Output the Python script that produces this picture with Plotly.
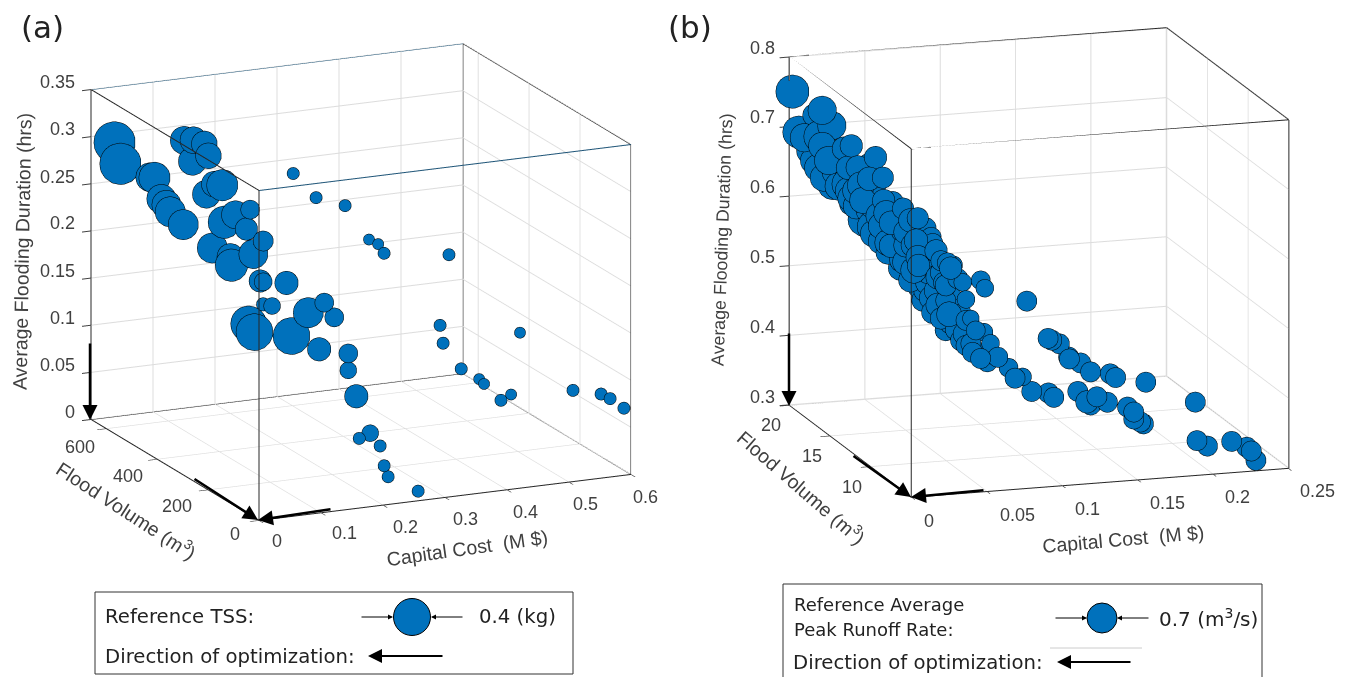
#!/usr/bin/env python3
# -*- coding: utf-8 -*-
"""Two 3D Pareto scatter panels: capital cost, flood volume, flooding duration."""
import plotly.graph_objects as go

WIDTH, HEIGHT = 1348, 677
BLUE = "#0071bc"
TEXT = "#404040"
FONT = "DejaVu Sans"
AXIS_FONT = "Liberation Sans"

# panel (a): values
cost_a = [.024, .024, .036, .036, .048, .048, .048, .048, .048, .048, .06, .06, .036, .036, .036, .048,
          .072, .06, .072, .06, .06, .072, .072, .06, .06, .084, .084, .096, .084, .084, .072, .072,
          .096, .12, .132, .144, .12, .156, .156, .168,
          .30, .30, .30, .33, .33, .33, .42, .36, .36, .39, .408, .408, .45, .432, .48, .54, .582, .588, .60,
          .186, .168, .198, .216, .222, .27]
volume_a = [628, 605, 516, 500, 412, 376, 333, 317, 380, 325, 323, 292, 473, 453, 438, 416,
            211, 240, 226, 284, 331, 160, 199, 260, 256, 189, 201, 127, 189, 154, 218, 195,
            108, 100, 66, 56, 57, 30, 30, 28,
            597, 507, 393, 372, 336, 313, 277, 166, 154, 156, 129, 110, 106, 102, 144, 82, 74, 53, 28,
            17, 16, 7, 35, 34, 33]
duration_a = [.298, .279, .278, .280, .333, .339, .342, .332, .316, .290, .300, .304, .262, .259, .254, .243,
              .290, .281, .267, .266, .231, .265, .245, .233, .225, .216, .215, .224, .192, .196, .168, .163,
              .171, .195, .210, .195, .163, .160, .142, .114,
              .247, .236, .246, .211, .212, .206, .203, .151, .134, .104, .096, .094, .080, .076, .137, .081, .075, .073, .066,
              .075, .071, .062, .035, .023, .004]
tss_a = [.4, .4, .198, .229, .183, .168, .155, .155, .183, .183, .155, .229, .198, .198, .213, .213,
         .084, .183, .117, .246, .213, .095, .198, .168, .246, .075, .117, .129, .042, .066, .299, .318,
         .318, .213, .084, .084, .129, .084, .066, .129,
         .035, .035, .035, .029, .029, .035, .035, .035, .035, .035, .029, .029, .029, .035, .029, .035, .035, .035, .035,
         .066, .035, .035, .035, .035, .035]

# panel (b): values
cost_b = [.001, .0025, .0025,
          .01, .01, .01, .01, .01, .01, .01, .01, .01,
          .0175, .0175, .0175, .0175, .0175, .0175, .0175, .0175, .0175, .0175, .0175, .0175, .0175,
          .025, .025, .025, .025, .025, .025, .025, .025, .025, .025, .025, .025,
          .0325, .0325, .0325, .0325, .0325, .0325, .0325, .0325, .0325, .0325, .0325, .0325, .0325,
          .0425, .0425, .0425, .0425, .0425, .0425, .0425, .0425, .0425, .0425, .0425, .0425, .0425, .0425, .0425, .0425, .0425, .0425,
          .05, .05, .05, .05, .05, .05, .05, .05, .05, .05, .05, .05, .05, .05,
          .0625, .0625, .0625, .0625, .0625, .0625, .0625,
          .075, .075, .08, .085, .095, .0975, .115, .12, .1225, .125, .1325, .1475, .15, .15, .155, .1575,
          .1925, .2, .215, .225, .2275, .23,
          .0925, .105, .1075, .1125, .1175, .1175, .125, .13, .1425, .145, .165, .2,
          .0175, .0175, .0175, .0175, .0175,
          .025, .025, .025, .025, .025, .025,
          .0325, .0325, .0325, .0325, .0325, .0325,
          .0425, .0425, .0425, .0425, .0425, .0425, .0425, .0425,
          .05, .05, .05, .05, .05]
volume_b = [19.9, 19.4, 18.7,
            18.9, 17.9, 18.2, 17.9, 18.9, 18.4, 17.7, 19.3, 17.1,
            18.1, 15.7, 16.6, 14.9, 17.5, 16.1, 18.0, 16.2, 16.0, 15.7, 15.7, 17.2, 15.1,
            14.1, 15.0, 14.4, 13.2, 13.1, 15.4, 14.4, 14.3, 13.4, 12.6, 12.6, 13.4,
            13.4, 12.1, 13.2, 12.1, 11.2, 10.3, 12.1, 10.3, 13.0, 12.7, 11.8, 10.8, 10.9,
            11.8, 10.5, 10.3, 9.3, 10.9, 10.9, 11.8, 9.7, 8.9, 10.5, 9.7, 8.3, 11.2, 11.2, 10.5, 9.3, 8.7, 8.5,
            9.2, 8.6, 8.0, 7.6, 8.2, 7.0, 9.5, 7.8, 8.9, 8.9, 7.6, 7.0, 6.4, 9.5,
            8.1, 7.6, 7.7, 6.9, 8.5, 7.3, 6.0,
            7.0, 6.2, 6.2, 6.0, 5.8, 5.6, 5.9, 5.7, 5.7, 5.4, 5.5, 5.8, 5.5, 5.5, 5.6, 5.7,
            5.6, 5.7, 5.5, 5.5, 5.4, 5.3,
            8.0, 7.7, 7.7, 7.7, 7.5, 7.4, 7.4, 7.1, 7.0, 6.8, 6.8, 7.2,
            17.0, 14.5, 15.1, 14.3, 13.5,
            14.4, 12.8, 13.7, 12.2, 14.9, 12.2,
            11.8, 10.5, 11.8, 10.2, 11.2, 12.4,
            11.2, 9.9, 11.5, 9.9, 8.7, 10.3, 9.3, 8.1,
            10.1, 8.2, 6.8, 5.8, 7.6]
duration_b = [.752, .698, .696,
              .725, .741, .701, .690, .660, .654, .646, .671, .676,
              .716, .708, .696, .684, .656, .673, .632, .649, .641, .633, .625, .637, .627,
              .704, .687, .661, .683, .651, .604, .602, .593, .590, .595, .581, .612,
              .645, .647, .601, .615, .638, .649, .574, .593, .619, .581, .573, .570, .605,
              .610, .618, .611, .595, .566, .550, .535, .568, .567, .531, .528, .527, .536, .625, .592, .578, .543, .599,
              .588, .574, .574, .553, .527, .531, .502, .502, .526, .498, .487, .495, .519, .543,
              .574, .567, .503, .494, .466, .464, .482,
              .456, .448, .449, .429, .427, .422, .425, .411, .406, .420, .410, .398, .393, .383, .377, .373,
              .344, .334, .340, .330, .325, .312,
              .540, .487, .484, .478, .460, .458, .451, .440, .436, .432, .422, .384,
              .676, .662, .649, .642, .680,
              .632, .636, .624, .627, .621, .594,
              .616, .615, .597, .582, .552, .559,
              .594, .604, .519, .547, .565, .512, .512, .595,
              .487, .489, .484, .484, .523]
runoff_b = [.61, .567, .448,
            .281, .448, .567, .411, .411, .411, .411, .448, .448,
            .448, .281, .311, .311, .486, .311, .486, .526, .411, .411, .311, .448, .376,
            .281, .225, .343, .252, .281, .654, .567, .411, .376, .376, .311, .376,
            .252, .252, .311, .311, .311, .252, .411, .311, .252, .376, .376, .376, .311,
            .252, .225, .225, .225, .343, .343, .343, .311, .252, .311, .311, .343, .311, .252, .252, .252, .225, .225,
            .199, .225, .175, .175, .225, .152, .252, .281, .252, .225, .225, .225, .199, .225,
            .199, .175, .175, .175, .225, .225, .225,
            .199, .225, .175, .225, .225, .225, .225, .281, .225, .225, .225, .225, .225, .225, .225, .225,
            .225, .225, .225, .225, .225, .225,
            .225, .225, .225, .225, .225, .225, .225, .225, .225, .225, .225, .225,
            .448, .411, .411, .376, .311,
            .376, .343, .376, .311, .376, .311,
            .311, .311, .311, .281, .311, .343,
            .311, .281, .281, .311, .252, .281, .252, .281,
            .252, .252, .225, .225, .225]

TICKS_COST_A = [0, .1, .2, .3, .4, .5, .6]
TICKS_VOLUME_A = [0, 200, 400, 600]
TICKS_DURATION_A = [0, .05, .1, .15, .2, .25, .3, .35]
TICKS_COST_B = [0, .05, .1, .15, .2, .25]
TICKS_VOLUME_B = [10, 15, 20]
TICKS_DURATION_B = [.3, .4, .5, .6, .7, .8]

LABELS_COST_A = ["0", "0.1", "0.2", "0.3", "0.4", "0.5", "0.6"]
LABELS_VOLUME_A = ["0", "200", "400", "600"]
LABELS_DURATION_A = ["0", "0.05", "0.1", "0.15", "0.2", "0.25", "0.3", "0.35"]
LABELS_COST_B = ["0", "0.05", "0.1", "0.15", "0.2", "0.25"]
LABELS_VOLUME_B = ["10", "15", "20"]
LABELS_DURATION_B = ["0.3", "0.4", "0.5", "0.6", "0.7", "0.8"]

# where the tick labels sit on the page (gl labels cannot be pushed off the axis far enough)
POS_COST_A = [(277, 541), (344, 533), (405, 527), (465, 519), (525, 512), (585, 504), (645, 497)]
POS_VOLUME_A = [(235, 534), (177, 506), (128, 476), (80, 447)]
POS_DURATION_A = [412, 365, 318, 271, 223, 177, 129, 82]
POS_COST_B = [(929, 521), (1017, 515), (1087, 509), (1167, 503), (1237, 497), (1317, 491)]
POS_VOLUME_B = [(852, 487), (812, 456), (771, 425)]
POS_DURATION_B = [397, 327, 257, 187, 117, 48]

MARKER_SCALE_A = 1.3  # gl markers come out smaller than the svg circle in the legend
MARKER_SCALE_B = 1.38


def fx(x):
    return x / WIDTH


def fy(y):
    return 1 - y / HEIGHT


def text(x, y, s, size=19.7, angle=0, anchor="left", color="#222222", family=FONT):
    return dict(xref="paper", yref="paper", x=fx(x), y=fy(y), text=s, showarrow=False,
                xanchor=anchor, yanchor="middle", textangle=angle,
                font=dict(family=family, size=size, color=color))


def tick_labels(labels, positions, anchor="center", right=None):
    out = []
    for lab, pos in zip(labels, positions):
        x, y = (right, pos) if right is not None else pos
        out.append(text(x, y, lab, size=18, anchor=anchor, color=TEXT, family=AXIS_FONT))
    return out


def arrow(x0, y0, x1, y1, width=1.6, size=1.0):
    return dict(xref="paper", yref="paper", axref="pixel", ayref="pixel",
                x=fx(x1), y=fy(y1), ax=x0 - x1, ay=y0 - y1, text="", showarrow=True,
                arrowhead=2, arrowsize=size, arrowwidth=width, arrowcolor="black", standoff=0)


def box_traces(scene, xr, yr, zr, top_color):
    # edges of the plot box, from the axis ranges
    x0, x1 = xr
    y0, y1 = yr
    z0, z1 = zr
    dark = go.Scatter3d(
        x=[x0, x1, x1, None, x0, x0, None, x0, x0, None, x0, x0, None, x1, x1, None, x1, x1, None, x0, x1, None, x0, x0, None, x1, x1],
        y=[y0, y0, y1, None, y0, y1, None, y0, y0, None, y1, y1, None, y0, y0, None, y1, y1, None, y1, y1, None, y0, y1, None, y0, y1],
        z=[z0, z0, z0, None, z0, z0, None, z0, z1, None, z0, z1, None, z0, z1, None, z0, z1, None, z0, z0, None, z1, z1, None, z1, z1],
        mode="lines", line=dict(color="#262626", width=2), scene=scene,
        showlegend=False, hoverinfo="skip")
    top = go.Scatter3d(
        x=[x0, x1, None, x0, x1],
        y=[y1, y1, None, y0, y0],
        z=[z1, z1, None, z1, z1],
        mode="lines", line=dict(color=top_color, width=2), scene=scene,
        showlegend=False, hoverinfo="skip")
    return [dark, top]


def axis(rng, ticks, labels):
    return dict(range=rng, autorange=False, tickvals=ticks, ticktext=labels, title=dict(text=""),
                showbackground=False, showgrid=True, gridcolor="#dcdcdc", gridwidth=2,
                zeroline=False, showspikes=False, showline=True, linecolor="#262626", linewidth=2,
                ticks="outside", ticklen=10, tickwidth=2, tickcolor="#404040",
                showticklabels=False)


fig = go.Figure()

# marker diameter grows with the square root of the mapped value, reference circle in the legend
fig.add_trace(go.Scatter3d(
    x=cost_a, y=volume_a, z=duration_a, mode="markers", scene="scene", showlegend=False,
    marker=dict(size=[MARKER_SCALE_A * 37 * (t / .4) ** .5 for t in tss_a], color=BLUE, opacity=1,
                line=dict(color="black", width=1.5))))
fig.add_trace(go.Scatter3d(
    x=cost_b, y=volume_b, z=duration_b, mode="markers", scene="scene2", showlegend=False,
    marker=dict(size=[MARKER_SCALE_B * 30 * (r / .7) ** .5 for r in runoff_b], color=BLUE, opacity=1,
                line=dict(color="black", width=1.5))))

RANGE_B = ((-.0003, .2503), (4.98, 20.02), (.2995, .8005))
for tr in box_traces("scene", (0, .6), (0, 660), (0, .35), "#1f5578"):
    fig.add_trace(tr)
for tr in box_traces("scene2", *RANGE_B, "#262626"):
    fig.add_trace(tr)

annotations = [
    text(19, 27, "(a)", size=31), text(666, 27, "(b)", size=31),
    text(22, 252, "Average Flooding Duration (hrs)", size=19.5, angle=-89, anchor="center", color=TEXT, family=AXIS_FONT),
    text(127, 510, "Flood Volume (m<sup>3</sup>)", size=19.5, angle=33, anchor="center", color=TEXT, family=AXIS_FONT),
    text(467, 548, "Capital Cost  (M $)", size=19.5, angle=-8, anchor="center", color=TEXT, family=AXIS_FONT),
    text(722, 240, "Average Flooding Duration (hrs)", size=17.8, angle=-88, anchor="center", color=TEXT, family=AXIS_FONT),
    text(802, 487, "Flood Volume (m<sup>3</sup>)", size=19.5, angle=41, anchor="center", color=TEXT, family=AXIS_FONT),
    text(1123, 539, "Capital Cost  (M $)", size=19.5, angle=-5, anchor="center", color=TEXT, family=AXIS_FONT),
    # direction arrows on the axes
    arrow(90, 342, 90, 420, width=2.5, size=1.2), arrow(193, 478, 258, 520, width=2.5, size=1.2),
    arrow(332, 509, 258, 520, width=2.5, size=1.2),
    arrow(789, 332, 789, 406, width=2.5, size=1.2), arrow(852, 455, 911, 497, width=2.5, size=1.2),
    arrow(985, 490, 911, 497, width=2.5, size=1.2),
    # legend (a)
    text(103, 616, "Reference TSS:"), text(477, 616, "0.4 (kg)"),
    text(103, 656, "Direction of optimization:"),
    arrow(360, 617, 393, 617, width=1), arrow(464, 617, 431, 617, width=1),
    arrow(444, 656, 368, 656, width=2, size=1.4),
    # legend (b)
    text(792, 604, "Reference Average", size=18), text(792, 629, "Peak Runoff Rate:", size=18),
    text(1157, 618, "0.7 (m<sup>3</sup>/s)", size=20),
    text(791, 662, "Direction of optimization:"),
    arrow(1054, 618, 1087, 618, width=1), arrow(1150, 618, 1117, 618, width=1),
    arrow(1132, 662, 1057, 662, width=2, size=1.4),
]
annotations += tick_labels(LABELS_COST_A, POS_COST_A)
annotations += tick_labels(LABELS_VOLUME_A, POS_VOLUME_A)
annotations += tick_labels(LABELS_DURATION_A, POS_DURATION_A, anchor="right", right=77)
annotations += tick_labels(LABELS_COST_B, POS_COST_B)
annotations += tick_labels(LABELS_VOLUME_B, POS_VOLUME_B)
annotations += tick_labels(LABELS_DURATION_B, POS_DURATION_B, anchor="right", right=777)

shapes = [
    dict(type="rect", xref="paper", yref="paper", x0=fx(95), x1=fx(573), y0=fy(592), y1=fy(674),
         line=dict(color="#333333", width=1)),
    dict(type="circle", xref="paper", yref="paper", x0=fx(393.5), x1=fx(430.5), y0=fy(598.5), y1=fy(635.5),
         fillcolor=BLUE, line=dict(color="black", width=1)),
    dict(type="path", xref="paper", yref="paper",
         path=f"M {fx(783)} {fy(677)} L {fx(783)} {fy(584)} L {fx(1262)} {fy(584)} L {fx(1262)} {fy(677)}",
         line=dict(color="#333333", width=1)),
    dict(type="circle", xref="paper", yref="paper", x0=fx(1087), x1=fx(1117), y0=fy(603), y1=fy(633),
         fillcolor=BLUE, line=dict(color="black", width=1)),
    dict(type="line", xref="paper", yref="paper", x0=fx(1050), x1=fx(1142), y0=fy(648), y1=fy(648),
         line=dict(color="#cccccc", width=1)),
]

EYE = 3
fig.update_layout(
    width=WIDTH, height=HEIGHT, margin=dict(l=0, r=0, t=0, b=0), paper_bgcolor="white",
    showlegend=False, annotations=annotations, shapes=shapes,
    scene=dict(
        domain=dict(x=[fx(10.5), fx(710.5)], y=[fy(564), 1]),
        xaxis=axis([0, .6], TICKS_COST_A, LABELS_COST_A),
        yaxis=axis([0, 660], TICKS_VOLUME_A, LABELS_VOLUME_A),
        zaxis=axis([0, .35], TICKS_DURATION_A, LABELS_DURATION_A),
        aspectmode="manual", aspectratio=dict(x=1.448, y=1.442, z=1.216),
        camera=dict(projection=dict(type="orthographic"), up=dict(x=0, y=0, z=1),
                    center=dict(x=0, y=0, z=0),
                    eye=dict(x=-.3975 * EYE, y=-.8763 * EYE, z=.2727 * EYE))),
    scene2=dict(
        domain=dict(x=[fx(738.5), fx(1338.5)], y=[fy(525), 1]),
        xaxis=axis(list(RANGE_B[0]), TICKS_COST_B, LABELS_COST_B),
        yaxis=axis(list(RANGE_B[1]), TICKS_VOLUME_B, LABELS_VOLUME_B),
        zaxis=axis(list(RANGE_B[2]), TICKS_DURATION_B, LABELS_DURATION_B),
        aspectmode="manual", aspectratio=dict(x=1.51, y=1.53, z=1.368),
        camera=dict(projection=dict(type="orthographic"), up=dict(x=0, y=0, z=1),
                    center=dict(x=0, y=0, z=0),
                    eye=dict(x=-.2953 * EYE, y=-.9247 * EYE, z=.2408 * EYE))),
)

fig.write_html("out.html", config=dict(displayModeBar=False),
               post_script="document.body.style.margin='0';")
